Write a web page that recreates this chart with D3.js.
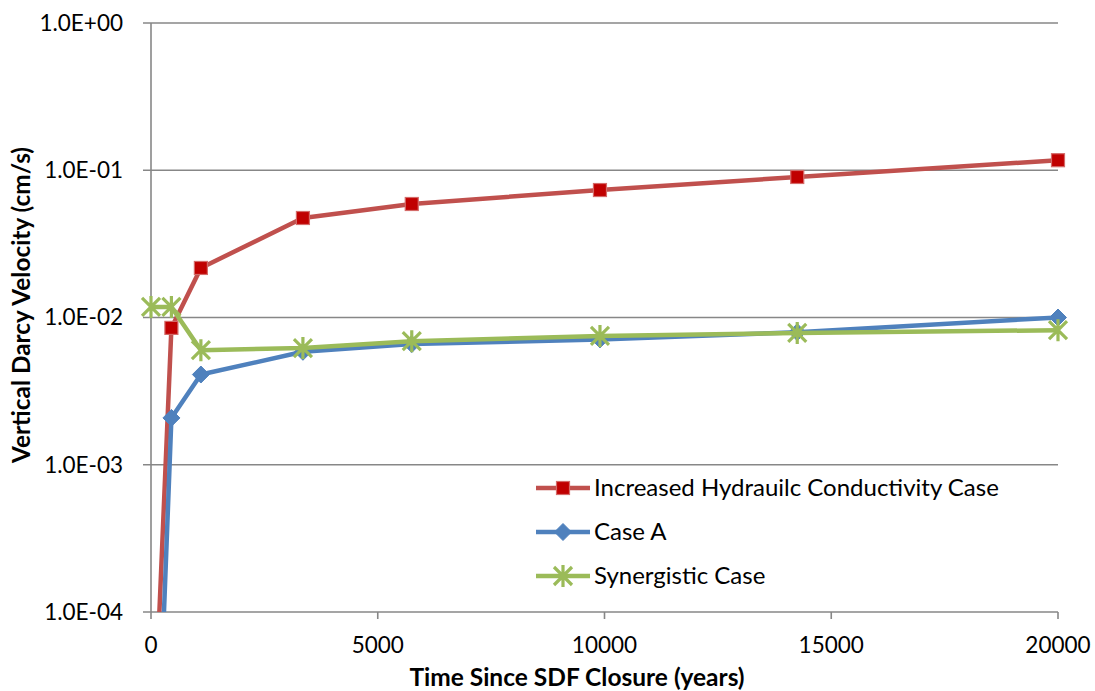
<!DOCTYPE html>
<html lang="en">
<head>
    <meta charset="UTF-8">
    <title>Vertical Darcy Velocity</title>
    <style>
        body {
            margin: 0;
            background: #fff;
        }

        svg text {
            font-family: Lato, "Open Sans", sans-serif;
            fill: #000;
        }
    </style>
</head>
<body>
<script src="https://cdnjs.cloudflare.com/ajax/libs/d3/7.8.5/d3.min.js"></script>
<script>
    const width = 1095;
    const height = 691;

    // time since closure (years)
    const years = [0, 450, 1100, 3350, 5750, 9900, 14250, 20000];

    const increasedK = [4.5e-6, 8.5e-3, 0.0217, 0.0474, 0.059, 0.0734, 0.090, 0.117];
    const caseA = [5e-7, 2.08e-3, 4.1e-3, 5.85e-3, 6.6e-3, 7.1e-3, 7.95e-3, 1.0e-2];
    const synergistic = [0.0118, 0.0118, 6.0e-3, 6.2e-3, 6.9e-3, 7.5e-3, 7.85e-3, 8.2e-3];

    const seriesNames = ['Increased Hydrauilc Conductivity Case', 'Case A', 'Synergistic Case'];

    const xTicks = [0, 5000, 10000, 15000, 20000];
    const yTicks = [1e-4, 1e-3, 1e-2, 1e-1, 1];

    const COLORS = {
        grid: '#878787',
        red: '#C0504D',
        redMarker: '#C00000',
        blue: '#4F81BD',
        green: '#9BBB59'
    };

    const PLOT = {left: 151, right: 1058, top: 23, bottom: 612};

    const x = d3.scaleLinear().domain([0, 20000]).range([PLOT.left, PLOT.right]);
    const y = d3.scaleLog().domain([1e-4, 1]).range([PLOT.bottom, PLOT.top]);

    const svg = d3.select('body').append('svg')
        .attr('width', width)
        .attr('height', height);

    svg.append('defs').append('clipPath')
        .attr('id', 'plot-clip')
        .append('rect')
        .attr('x', PLOT.left - 20)
        .attr('y', PLOT.top - 20)
        .attr('width', PLOT.right - PLOT.left + 40)
        .attr('height', PLOT.bottom - PLOT.top + 20);

    // gridlines
    svg.append('g')
        .selectAll('line')
        .data(yTicks)
        .join('line')
        .attr('x1', PLOT.left - 8)
        .attr('x2', PLOT.right)
        .attr('y1', d => y(d))
        .attr('y2', d => y(d))
        .attr('stroke', COLORS.grid)
        .attr('stroke-width', 1.6);

    // y axis line
    svg.append('line')
        .attr('x1', PLOT.left).attr('x2', PLOT.left)
        .attr('y1', PLOT.top).attr('y2', PLOT.bottom + 7)
        .attr('stroke', COLORS.grid)
        .attr('stroke-width', 1.6);

    // x ticks
    svg.append('g')
        .selectAll('line')
        .data(xTicks.slice(1))
        .join('line')
        .attr('x1', d => x(d)).attr('x2', d => x(d))
        .attr('y1', PLOT.bottom).attr('y2', PLOT.bottom + 7)
        .attr('stroke', COLORS.grid)
        .attr('stroke-width', 1.6);

    const fmtY = d => {
        const e = Math.round(Math.log10(d));
        return '1.0E' + (e < 0 ? '-' : '+') + String(Math.abs(e)).padStart(2, '0');
    };

    svg.append('g')
        .selectAll('text')
        .data(yTicks)
        .join('text')
        .attr('x', 123)
        .attr('y', d => y(d))
        .attr('dy', '0.35em')
        .attr('text-anchor', 'end')
        .style('font-size', '22.5px')
        .text(fmtY);

    svg.append('g')
        .selectAll('text')
        .data(xTicks)
        .join('text')
        .attr('x', d => x(d))
        .attr('y', 653)
        .attr('text-anchor', 'middle')
        .style('font-size', '22.5px')
        .text(d => d);

    svg.append('text')
        .attr('x', 577)
        .attr('y', 686)
        .attr('text-anchor', 'middle')
        .style('font-size', '24.5px')
        .style('font-weight', 'bold')
        .text('Time Since SDF Closure (years)');

    svg.append('text')
        .attr('transform', 'translate(30, 305) rotate(-90)')
        .attr('text-anchor', 'middle')
        .style('font-size', '24.4px')
        .style('font-weight', 'bold')
        .text('Vertical Darcy Velocity (cm/s)');

    // markers
    function drawMarker(g, kind, cx, cy) {
        if (kind === 'square') {
            g.append('rect')
                .attr('x', cx - 6.5).attr('y', cy - 6.5)
                .attr('width', 13).attr('height', 13)
                .attr('fill', COLORS.redMarker)
                .attr('stroke', '#D46A68')
                .attr('stroke-width', 1.2);
        } else if (kind === 'diamond') {
            const r = 8.5;
            g.append('path')
                .attr('d', `M${cx},${cy - r}L${cx + r},${cy}L${cx},${cy + r}L${cx - r},${cy}Z`)
                .attr('fill', COLORS.blue)
                .attr('stroke', COLORS.blue)
                .attr('stroke-width', 1);
        } else {
            const r = 11;
            const a = 9;
            g.append('path')
                .attr('d', `M${cx},${cy - r}L${cx},${cy + r}` +
                    `M${cx - a},${cy - a}L${cx + a},${cy + a}M${cx - a},${cy + a}L${cx + a},${cy - a}`)
                .attr('stroke', COLORS.green)
                .attr('stroke-width', 3.2)
                .attr('fill', 'none');
        }
    }

    const series = [
        {name: seriesNames[0], values: increasedK, color: COLORS.red, marker: 'square'},
        {name: seriesNames[1], values: caseA, color: COLORS.blue, marker: 'diamond'},
        {name: seriesNames[2], values: synergistic, color: COLORS.green, marker: 'star'}
    ];

    const line = d3.line()
        .x((d, i) => x(years[i]))
        .y(d => y(d));

    const plot = svg.append('g').attr('clip-path', 'url(#plot-clip)');

    series.forEach(s => {
        const g = plot.append('g');
        g.append('path')
            .datum(s.values)
            .attr('d', line)
            .attr('fill', 'none')
            .attr('stroke', s.color)
            .attr('stroke-width', 4.5)
            .attr('stroke-linejoin', 'round');
        s.values.forEach((v, i) => {
            if (v >= 1e-4) drawMarker(g, s.marker, x(years[i]), y(v));
        });
    });

    // legend
    const legend = svg.append('g');
    const legendRows = [488, 532, 576];
    series.forEach((s, i) => {
        const ly = legendRows[i];
        legend.append('line')
            .attr('x1', 536).attr('x2', 590)
            .attr('y1', ly).attr('y2', ly)
            .attr('stroke', s.color)
            .attr('stroke-width', 4.5);
        drawMarker(legend, s.marker, 563, ly);
        legend.append('text')
            .attr('x', 594)
            .attr('y', ly)
            .attr('dy', '0.35em')
            .style('font-size', '24px')
            .text(s.name);
    });
</script>
</body>
</html>
